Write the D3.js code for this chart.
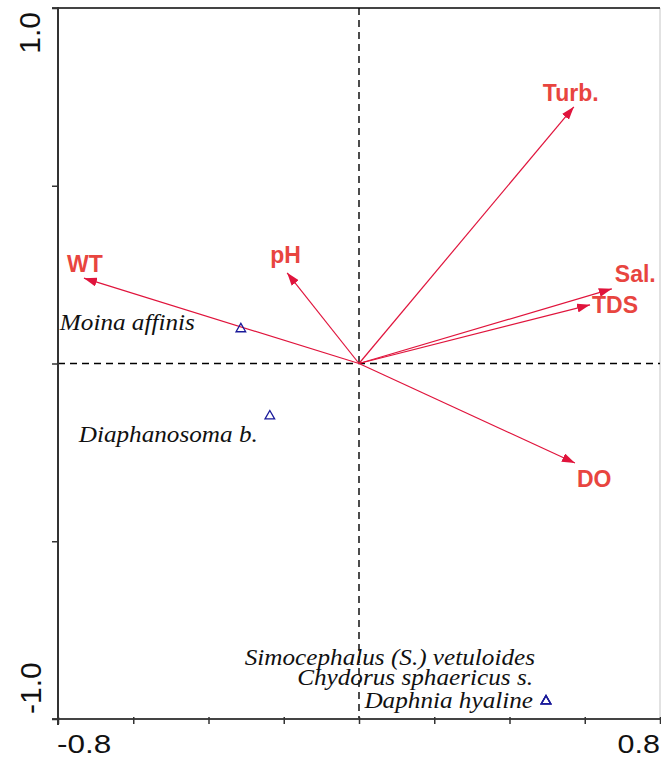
<!DOCTYPE html>
<html>
<head>
<meta charset="utf-8">
<script src="https://cdn.jsdelivr.net/npm/d3@7"></script>
<style>
  html, body { margin: 0; padding: 0; background: #fff; }
  svg { display: block; }
</style>
</head>
<body>
<svg id="chart" width="661" height="758"></svg>
<script>
// ---- data ----
const envNames = ["WT", "pH", "Turb.", "Sal.", "TDS", "DO"];
const envX = [-0.731, -0.191, 0.571, 0.672, 0.614, 0.574];
const envY = [0.240, 0.255, 0.722, 0.210, 0.165, -0.280];

const speciesNames = ["Moina affinis", "Diaphanosoma b.", "Simocephalus (S.) vetuloides", "Chydorus sphaericus s.", "Daphnia hyaline"];
const speciesX = [-0.314, -0.237, 0.497, 0.497, 0.497];
const speciesY = [0.100, -0.145, -0.947, -0.947, -0.947];

const xDomain = [-0.8, 0.8];
const yDomain = [-1.0, 1.0];
const xTickLabels = ["-0.8", "0.8"];
const yTickLabels = ["-1.0", "1.0"];

// ---- layout (label offsets in px) ----
const envLabelOffset = [[-17, -6], [-17, -10], [-31, -6], [3, -7], [2, 8], [2, 24]];
const speciesLabelOffset = [[-46, 2], [-12, 27], [-11, -35], [-13, -15], [-13, 8]];

const svg = d3.select("#chart");
const L = 58, R = 660, T = 8, B = 719;
const x = d3.scaleLinear().domain(xDomain).range([L, R]);
const y = d3.scaleLinear().domain(yDomain).range([B, T]);

// borders
svg.append("line").attr("x1", R).attr("x2", R).attr("y1", T).attr("y2", B)
  .attr("stroke", "#cfcfcf").attr("stroke-width", 1.2);
svg.append("line").attr("x1", L - 6).attr("x2", R).attr("y1", T).attr("y2", T)
  .attr("stroke", "#444").attr("stroke-width", 2);

// zero dashed lines
svg.append("line").attr("x1", L).attr("x2", R).attr("y1", y(0)).attr("y2", y(0))
  .attr("stroke", "#000").attr("stroke-width", 1.4).attr("stroke-dasharray", "7,5");
svg.append("line").attr("x1", x(0)).attr("x2", x(0)).attr("y1", T).attr("y2", B)
  .attr("stroke", "#000").attr("stroke-width", 1.4).attr("stroke-dasharray", "7,5");

// axes
const xAxis = d3.axisBottom(x).tickValues(d3.range(-0.8, 0.81, 0.2)).tickSize(5).tickFormat("");
const gx = svg.append("g").attr("transform", `translate(0,${B})`).call(xAxis);
gx.select(".domain").attr("stroke", "#444").attr("stroke-width", 2).attr("d", `M${L - 6},0H${R}`);
gx.selectAll(".tick line").attr("stroke", "#333").attr("stroke-width", 1.5).attr("y1", -2);

const yAxis = d3.axisLeft(y).tickValues([-1, -0.5, 0, 0.5, 1]).tickSize(6).tickFormat("");
const gy = svg.append("g").attr("transform", `translate(${L},0)`).call(yAxis);
gy.select(".domain").attr("stroke", "#333").attr("stroke-width", 2).attr("d", `M0,${T - 1}V${B + 6}`);
gy.selectAll(".tick line").attr("stroke", "#333").attr("stroke-width", 1.5).attr("x2", -6).attr("x1", 1);

// tick labels
const tickFont = "'Liberation Sans', Arial, sans-serif";
svg.append("text").text(xTickLabels[0])
  .attr("transform", `translate(${x(-0.8) - 1},753) scale(1.26,1)`)
  .attr("font-family", tickFont).attr("font-size", 25).attr("fill", "#111");
svg.append("text").text(xTickLabels[1])
  .attr("transform", `translate(${x(0.8)},753) scale(1.22,1)`)
  .attr("text-anchor", "end")
  .attr("font-family", tickFont).attr("font-size", 25).attr("fill", "#111");
svg.append("text").text(yTickLabels[0])
  .attr("transform", `translate(41,${y(-1) - 5}) rotate(-90)`)
  .attr("text-anchor", "start")
  .attr("font-family", tickFont).attr("font-size", 30).attr("fill", "#111");
svg.append("text").text(yTickLabels[1])
  .attr("transform", `translate(40,${y(1) + 4}) rotate(-90)`)
  .attr("text-anchor", "end")
  .attr("font-family", tickFont).attr("font-size", 30).attr("fill", "#111");

// arrows
const arrowColor = "#e0143c";
svg.append("defs").append("marker")
  .attr("id", "ah").attr("viewBox", "0 0 13 9").attr("refX", 13).attr("refY", 4.5)
  .attr("markerWidth", 13).attr("markerHeight", 9).attr("markerUnits", "userSpaceOnUse")
  .attr("orient", "auto")
  .append("path").attr("d", "M0,0L13,4.5L0,9Z").attr("fill", arrowColor);

const env = envNames.map((n, i) => ({ n, vx: envX[i], vy: envY[i], off: envLabelOffset[i] }));
svg.append("g").selectAll("line").data(env).join("line")
  .attr("x1", x(0)).attr("y1", y(0))
  .attr("x2", d => x(d.vx)).attr("y2", d => y(d.vy))
  .attr("stroke", arrowColor).attr("stroke-width", 1.2)
  .attr("marker-end", "url(#ah)");

svg.append("g").selectAll("text").data(env).join("text")
  .attr("x", d => x(d.vx) + d.off[0]).attr("y", d => y(d.vy) + d.off[1])
  .attr("font-family", "'Liberation Sans', Arial, sans-serif")
  .attr("font-weight", "bold").attr("font-size", 23)
  .attr("fill", "#e8453f")
  .text(d => d.n);

// species
const sp = speciesNames.map((n, i) => ({ n, vx: speciesX[i], vy: speciesY[i], off: speciesLabelOffset[i] }));
const tri = d3.symbol().type(d3.symbolTriangle).size(40);
svg.append("g").selectAll("path").data(sp).join("path")
  .attr("transform", d => `translate(${x(d.vx)},${y(d.vy) + 1})`)
  .attr("d", tri)
  .attr("fill", "none").attr("stroke", "#1a1a9a").attr("stroke-width", 1.3);

svg.append("g").selectAll("text").data(sp).join("text")
  .attr("transform", d => `translate(${x(d.vx) + d.off[0]},${y(d.vy) + d.off[1]}) scale(1.12,1)`)
  .attr("text-anchor", "end")
  .attr("font-family", "'Liberation Serif', 'DejaVu Serif', serif")
  .attr("font-style", "italic").attr("font-size", 22.5)
  .attr("fill", "#111")
  .text(d => d.n);
</script>
</body>
</html>
